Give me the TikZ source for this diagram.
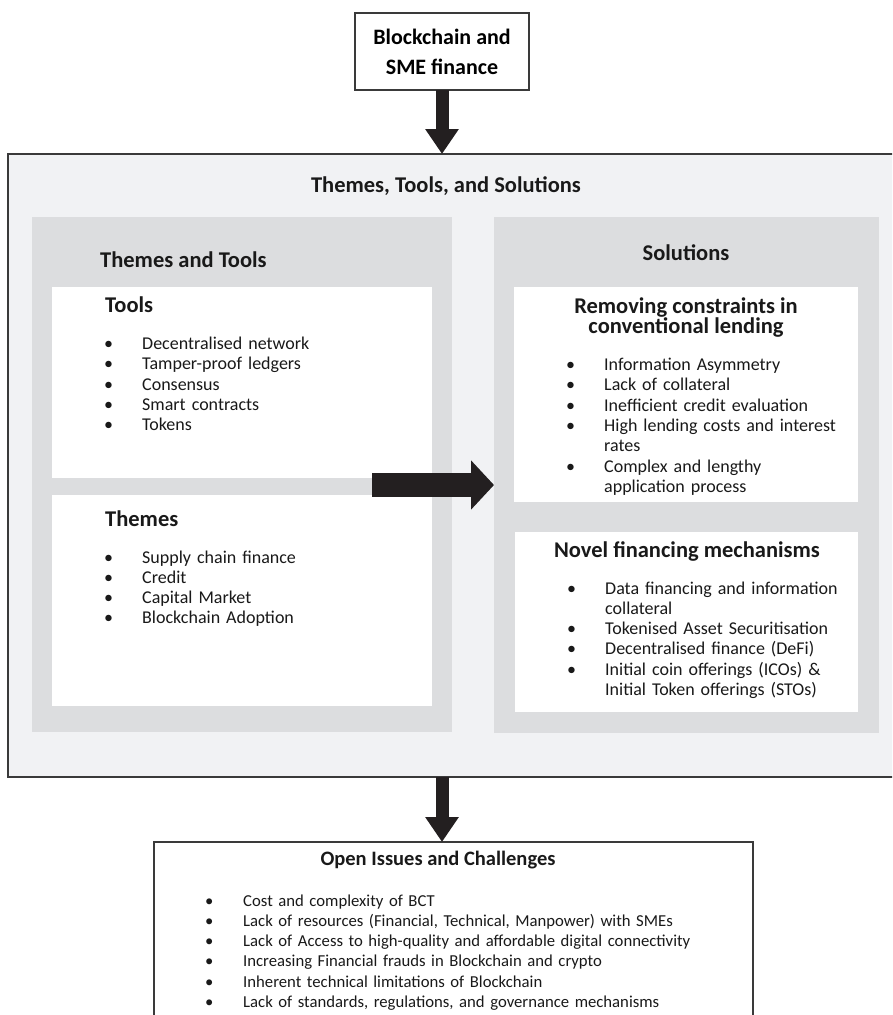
\documentclass[tikz,border=0pt]{standalone}
\usepackage{fontspec}
\setmainfont{Carlito}
\usetikzlibrary{arrows.meta}
\definecolor{outerfill}{HTML}{F1F2F4}
\definecolor{panelfill}{HTML}{DCDDDF}
\definecolor{framegray}{HTML}{3A3A3A}
\definecolor{arrowblack}{HTML}{231F20}
\setlength{\parindent}{0pt}
\newcommand{\bitem}[1]{\par\hangindent=38pt\hangafter=1\makebox[38pt][l]{\textbullet}#1\par}

\begin{document}
\begin{tikzpicture}[x=1pt,y=-1pt,
    box/.style={draw=framegray,inner sep=0pt,outer sep=0pt,anchor=north west},
    panel/.style={fill=panelfill,inner sep=0pt,outer sep=0pt,anchor=north west},
    card/.style={fill=white,inner sep=0pt,outer sep=0pt,anchor=north west},
    head/.style={font=\bfseries\fontsize{22.5}{20.3}\selectfont,text=black!90,inner sep=0pt,align=center},
    listtext/.style={font=\fontsize{18}{20.3}\selectfont,text=black!90,inner sep=0pt,text width=330pt,align=left,anchor=north west},
    fatarrow/.style={arrowblack,line width=13pt,-{Triangle[width=32pt 0 0,length=25pt 0 0]}}]
    \clip (0,0) rectangle (892,1015);

    % frames
    \node[box,fill=outerfill,line width=2.5pt,minimum width=900pt,minimum height=623pt] (ttsbox) at (8,154) {};
    \node[box,line width=1.5pt,minimum width=174pt,minimum height=77pt,font=\bfseries\fontsize{22}{30}\selectfont,align=center] (blocksme) at (355,13) {Blockchain and\\SME finance};
    \node[box,line width=2pt,minimum width=599pt,minimum height=200pt] (openbox) at (154,842) {};

    \node[panel,minimum width=420pt,minimum height=515pt] (ttpanel)  at (32,217) {};
    \node[panel,minimum width=385pt,minimum height=516pt] (solpanel) at (494,217) {};

    \node[card,minimum width=380pt,minimum height=191pt] (toolsbox)  at (52,287) {};
    \node[card,minimum width=380pt,minimum height=211pt] (themesbox) at (52,495) {};
    \node[card,minimum width=344pt,minimum height=215pt] (removebox) at (514,287) {};
    \node[card,minimum width=343pt,minimum height=180pt] (novelbox)  at (515,532) {};

    % texts
    \node[head,anchor=base] (ttstitle) at (446,192) {Themes, Tools, and Solutions};
    \node[head,anchor=base west] (tthead) at (100,267) {Themes and Tools};
    \node[head,anchor=base] (solhead) at (686,260) {Solutions};

    \node[head,anchor=base west] (toolshead) at (105,312) {Tools};
    \node[listtext] (toolslist) at (104,329) {\bitem{Decentralised network}\bitem{Tamper-proof ledgers}\bitem{Consensus}\bitem{Smart contracts}\bitem{Tokens}};

    \node[head,anchor=base west] (themeshead) at (105,526) {Themes};
    \node[listtext] (themeslist) at (104,542.5) {\bitem{Supply chain finance}\bitem{Credit}\bitem{Capital Market}\bitem{Blockchain Adoption}};

    \node[head,anchor=north] (removehead) at (686,297.7) {Removing constraints in\\conventional lending};
    \node[listtext] (removelist) at (566,350) {\bitem{Information Asymmetry}\bitem{Lack of collateral}\bitem{Inefficient credit evaluation}\bitem{High lending costs and interest\newline rates}\bitem{Complex and lengthy\newline application process}};

    \node[head,anchor=base] (novelhead) at (687,557) {Novel financing mechanisms};
    \node[listtext] (novellist) at (567,573.5) {\bitem{Data financing and information\newline collateral}\bitem{Tokenised Asset Securitisation}\bitem{Decentralised finance (DeFi)}\bitem{Initial coin offerings (ICOs) \&\newline Initial Token offerings (STOs)}};

    \node[head,font=\bfseries\fontsize{20.5}{20}\selectfont,anchor=base] (openhead) at (438,865) {Open Issues and Challenges};
    \node[listtext,font=\fontsize{16.7}{20.3}\selectfont,text width=540pt] (openlist) at (205,885.5) {\bitem{Cost and complexity of BCT}\bitem{Lack of resources (Financial, Technical, Manpower) with SMEs}\bitem{Lack of Access to high-quality and affordable digital connectivity}\bitem{Increasing Financial frauds in Blockchain and crypto}\bitem{Inherent technical limitations of Blockchain}\bitem{Lack of standards, regulations, and governance mechanisms}};

    % arrows
    \coordinate (arrowtail) at (372,485);
    \draw[fatarrow] (blocksme.south) -> (blocksme.south |- ttsbox.north);
    \draw[fatarrow,line width=24pt,-{Triangle[width=48pt 0 0,length=23pt 0 0]}] (arrowtail) -> (arrowtail -| solpanel.west);
    \draw[fatarrow] (blocksme.south |- ttsbox.south) -> (blocksme.south |- openbox.north);
\end{tikzpicture}
\end{document}
